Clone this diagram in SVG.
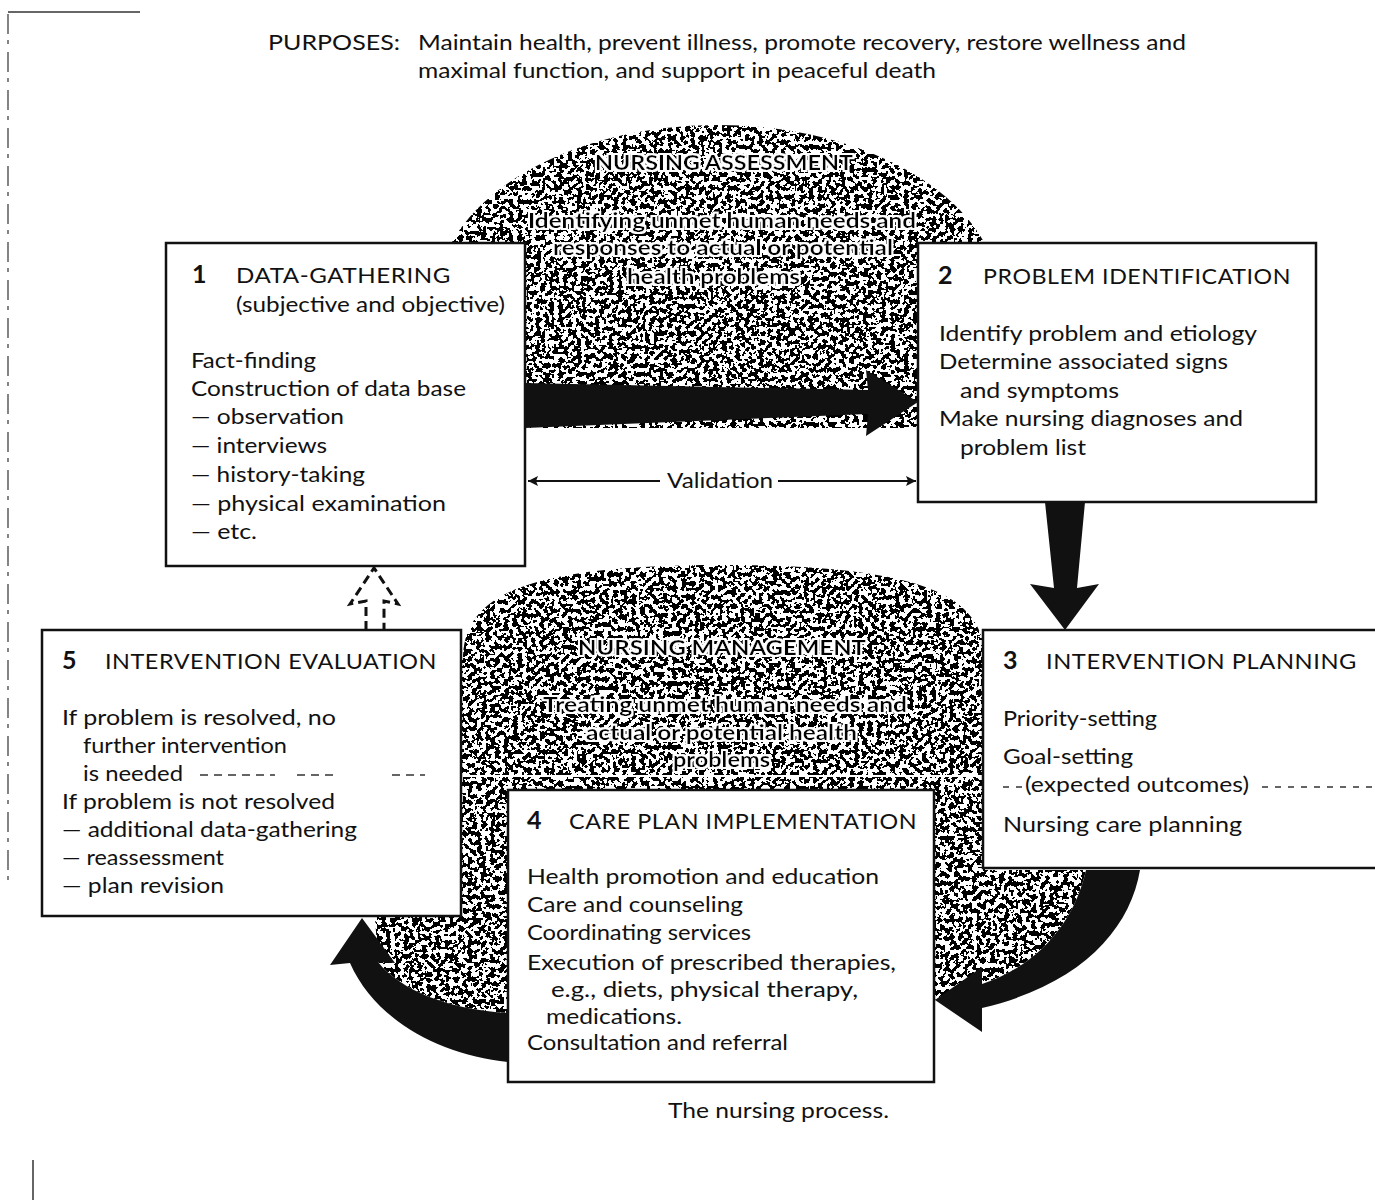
<svg xmlns="http://www.w3.org/2000/svg" width="1375" height="1203" viewBox="0 0 1375 1203">
<defs>
<style>
text{font-family:Lato,"Open Sans","Liberation Sans",sans-serif;fill:#111;}
.t{font-size:21px;}
.h{font-size:21px;letter-spacing:0.5px;}
.n{font-size:25px;font-weight:bold;}
.hd{font-size:22px;}
.dome{font-size:21px;font-weight:bold;fill:#000;}
.box{fill:#fff;stroke:#111;stroke-width:2.5;}
.blk{fill:#111;stroke:none;}
.art{stroke:#333;fill:none;}
</style>
<filter id="stipple" filterUnits="userSpaceOnUse" x="0" y="0" width="1375" height="1203">
<feTurbulence type="fractalNoise" baseFrequency="0.22" numOctaves="2" seed="11" result="noise"/>
<feColorMatrix in="noise" type="matrix" values="0 0 0 0 0  0 0 0 0 0  0 0 0 0 0  1 0 0 0 0" result="na"/>
<feComponentTransfer in="na" result="bin"><feFuncA type="discrete" tableValues="1 1 1 1 1 0 0 0 0 0"/></feComponentTransfer>
<feComposite in="bin" in2="SourceGraphic" operator="in"/>
</filter>
<filter id="halo" filterUnits="userSpaceOnUse" x="0" y="0" width="1375" height="1203">
<feMorphology in="SourceAlpha" operator="dilate" radius="2.2" result="d"/>
<feFlood flood-color="#ffffff" result="f"/>
<feComposite in="f" in2="d" operator="in" result="w"/>
<feMerge><feMergeNode in="w"/><feMergeNode in="SourceGraphic"/></feMerge>
</filter>
<marker id="ah" viewBox="0 0 10 10" refX="10" refY="5" markerWidth="14" markerHeight="10" markerUnits="userSpaceOnUse" orient="auto-start-reverse">
<path d="M0 0 L10 5 L0 10 L2 5 Z" fill="#111"/>
</marker>
</defs>
<rect width="1375" height="1203" fill="#fff"/>

<!-- scan edge artifacts -->
<g id="edges" class="art">
<path d="M8 12 H140" stroke-width="1.5"/>
<path d="M8 14 V880" stroke-width="1.2" stroke-dasharray="20 6 4 8"/>
<path d="M33 1160 V1200" stroke-width="1.5"/>
</g>

<!-- header -->
<g id="purposes">
<text class="hd" x="268" y="50" textLength="132" lengthAdjust="spacingAndGlyphs">PURPOSES:</text>
<text class="hd" x="418" y="50" textLength="768" lengthAdjust="spacingAndGlyphs">Maintain health, prevent illness, promote recovery, restore wellness and</text>
<text class="hd" x="418" y="78" textLength="518" lengthAdjust="spacingAndGlyphs">maximal function, and support in peaceful death</text>
</g>

<!-- stippled regions -->
<g id="stipple-areas" filter="url(#stipple)">
<path fill="#000" d="M436 300 A282 175 0 0 1 1000 300 L918 300 L918 428 L525 428 L525 300 Z"/>
<path fill="#000" d="M463 660 C463 595 525 565 722 565 C922 565 985 595 985 660 L985 870 L1086 870 C1075 920 1040 965 982 984 L934 1000 L508 1013 C450 1010 400 990 378 962 L375 917 L440 917 L440 660 Z"/>
</g>

<!-- white scan line across lower dome -->
<path d="M463 776 H985" stroke="#fff" stroke-width="2"/>

<!-- dome texts -->
<g id="assessment" filter="url(#halo)">
<text class="dome" x="595" y="170" textLength="258" lengthAdjust="spacingAndGlyphs">NURSING ASSESSMENT</text>
<text class="dome" x="528" y="228" textLength="388" lengthAdjust="spacingAndGlyphs">Identifying unmet human needs and</text>
<text class="dome" x="553" y="255" textLength="340" lengthAdjust="spacingAndGlyphs">responses to actual or potential</text>
<text class="dome" x="627" y="284" textLength="173" lengthAdjust="spacingAndGlyphs">health problems</text>
</g>
<g id="management" filter="url(#halo)">
<text class="dome" x="578" y="655" textLength="288" lengthAdjust="spacingAndGlyphs">NURSING MANAGEMENT</text>
<text class="dome" x="543" y="712" textLength="364" lengthAdjust="spacingAndGlyphs">Treating unmet human needs and</text>
<text class="dome" x="586" y="740" textLength="271" lengthAdjust="spacingAndGlyphs">actual or potential health</text>
<text class="dome" x="673" y="767" textLength="97" lengthAdjust="spacingAndGlyphs">problems</text>
</g>

<!-- connectors -->
<g id="connectors">
<path class="blk" d="M525 383 L868 390 L866 370 L918 402 L866 436 L868 414 L525 428 Z"/>
<path class="blk" d="M1045 502 L1085 502 L1077 588 L1099 584 L1065 630 L1030 584 L1054 588 Z"/>
<path class="blk" d="M1140 870 C1130 930 1080 985 982 1008 L982 1032 L935 1000 L982 967 L982 984 C1040 965 1075 920 1086 870 Z"/>
<path class="blk" d="M362 918 L395 963 L378 962 C400 990 450 1010 508 1013 L508 1062 C440 1055 375 1020 350 963 L330 965 Z"/>
<path d="M366 630 V601 L350 604 L374 568 L398 604 L384 601 V630" fill="none" stroke="#111" stroke-width="3" stroke-dasharray="9 5"/>
<path d="M528 481 H660" stroke="#111" stroke-width="2" marker-start="url(#ah)"/>
<path d="M778 481 H916" stroke="#111" stroke-width="2" marker-end="url(#ah)"/>
<text class="t" x="667" y="488" textLength="106" lengthAdjust="spacingAndGlyphs">Validation</text>
</g>

<!-- node 1 -->
<g id="node1">
<rect class="box" x="166" y="243" width="359" height="323"/>
<text class="n" x="192" y="283">1</text>
<text class="h" x="236" y="283" textLength="215" lengthAdjust="spacingAndGlyphs">DATA-GATHERING</text>
<text class="t" x="236" y="312" textLength="269" lengthAdjust="spacingAndGlyphs">(subjective and objective)</text>
<text class="t" x="191" y="368" textLength="125" lengthAdjust="spacingAndGlyphs">Fact-finding</text>
<text class="t" x="191" y="396" textLength="275" lengthAdjust="spacingAndGlyphs">Construction of data base</text>
<text class="t" x="191" y="424" textLength="153" lengthAdjust="spacingAndGlyphs">— observation</text>
<text class="t" x="191" y="453" textLength="136" lengthAdjust="spacingAndGlyphs">— interviews</text>
<text class="t" x="191" y="482" textLength="174" lengthAdjust="spacingAndGlyphs">— history-taking</text>
<text class="t" x="191" y="511" textLength="255" lengthAdjust="spacingAndGlyphs">— physical examination</text>
<text class="t" x="191" y="539" textLength="66" lengthAdjust="spacingAndGlyphs">— etc.</text>
</g>

<!-- node 2 -->
<g id="node2">
<rect class="box" x="918" y="243" width="398" height="259"/>
<text class="n" x="938" y="284">2</text>
<text class="h" x="983" y="284" textLength="308" lengthAdjust="spacingAndGlyphs">PROBLEM IDENTIFICATION</text>
<text class="t" x="939" y="341" textLength="318" lengthAdjust="spacingAndGlyphs">Identify problem and etiology</text>
<text class="t" x="939" y="369" textLength="289" lengthAdjust="spacingAndGlyphs">Determine associated signs</text>
<text class="t" x="960" y="398" textLength="159" lengthAdjust="spacingAndGlyphs">and symptoms</text>
<text class="t" x="939" y="426" textLength="304" lengthAdjust="spacingAndGlyphs">Make nursing diagnoses and</text>
<text class="t" x="960" y="455" textLength="126" lengthAdjust="spacingAndGlyphs">problem list</text>
</g>

<!-- node 3 -->
<g id="node3">
<rect class="box" x="983" y="630" width="400" height="238"/>
<text class="n" x="1003" y="669">3</text>
<text class="h" x="1046" y="669" textLength="311" lengthAdjust="spacingAndGlyphs">INTERVENTION PLANNING</text>
<text class="t" x="1003" y="726" textLength="154" lengthAdjust="spacingAndGlyphs">Priority-setting</text>
<text class="t" x="1003" y="764" textLength="130" lengthAdjust="spacingAndGlyphs">Goal-setting</text>
<text class="t" x="1025" y="792" textLength="224" lengthAdjust="spacingAndGlyphs">(expected outcomes)</text>
<text class="t" x="1003" y="832" textLength="239" lengthAdjust="spacingAndGlyphs">Nursing care planning</text>
<path class="art" d="M1003 787 H1022 M1262 787 H1375" stroke-width="1.5" stroke-dasharray="6 7"/>
</g>

<!-- node 4 -->
<g id="node4">
<rect class="box" x="508" y="790" width="426" height="292"/>
<text class="n" x="527" y="829">4</text>
<text class="h" x="569" y="829" textLength="348" lengthAdjust="spacingAndGlyphs">CARE PLAN IMPLEMENTATION</text>
<text class="t" x="527" y="884" textLength="352" lengthAdjust="spacingAndGlyphs">Health promotion and education</text>
<text class="t" x="527" y="912" textLength="216" lengthAdjust="spacingAndGlyphs">Care and counseling</text>
<text class="t" x="527" y="940" textLength="224" lengthAdjust="spacingAndGlyphs">Coordinating services</text>
<text class="t" x="527" y="970" textLength="369" lengthAdjust="spacingAndGlyphs">Execution of prescribed therapies,</text>
<text class="t" x="551" y="997" textLength="307" lengthAdjust="spacingAndGlyphs">e.g., diets, physical therapy,</text>
<text class="t" x="546" y="1024" textLength="136" lengthAdjust="spacingAndGlyphs">medications.</text>
<text class="t" x="527" y="1050" textLength="261" lengthAdjust="spacingAndGlyphs">Consultation and referral</text>
</g>

<!-- node 5 -->
<g id="node5">
<rect class="box" x="42" y="630" width="419" height="286"/>
<text class="n" x="62" y="669">5</text>
<text class="h" x="105" y="669" textLength="332" lengthAdjust="spacingAndGlyphs">INTERVENTION EVALUATION</text>
<text class="t" x="62" y="725" textLength="274" lengthAdjust="spacingAndGlyphs">If problem is resolved, no</text>
<text class="t" x="83" y="753" textLength="204" lengthAdjust="spacingAndGlyphs">further intervention</text>
<text class="t" x="83" y="781" textLength="100" lengthAdjust="spacingAndGlyphs">is needed</text>
<text class="t" x="62" y="809" textLength="273" lengthAdjust="spacingAndGlyphs">If problem is not resolved</text>
<text class="t" x="62" y="837" textLength="295" lengthAdjust="spacingAndGlyphs">— additional data-gathering</text>
<text class="t" x="62" y="865" textLength="162" lengthAdjust="spacingAndGlyphs">— reassessment</text>
<text class="t" x="62" y="893" textLength="162" lengthAdjust="spacingAndGlyphs">— plan revision</text>
<path class="art" d="M200 775 H275 M297 775 H335 M392 775 H425" stroke-width="1.5" stroke-dasharray="8 6"/>
</g>

<text class="t" x="668" y="1118" textLength="221" lengthAdjust="spacingAndGlyphs">The nursing process.</text>
</svg>
